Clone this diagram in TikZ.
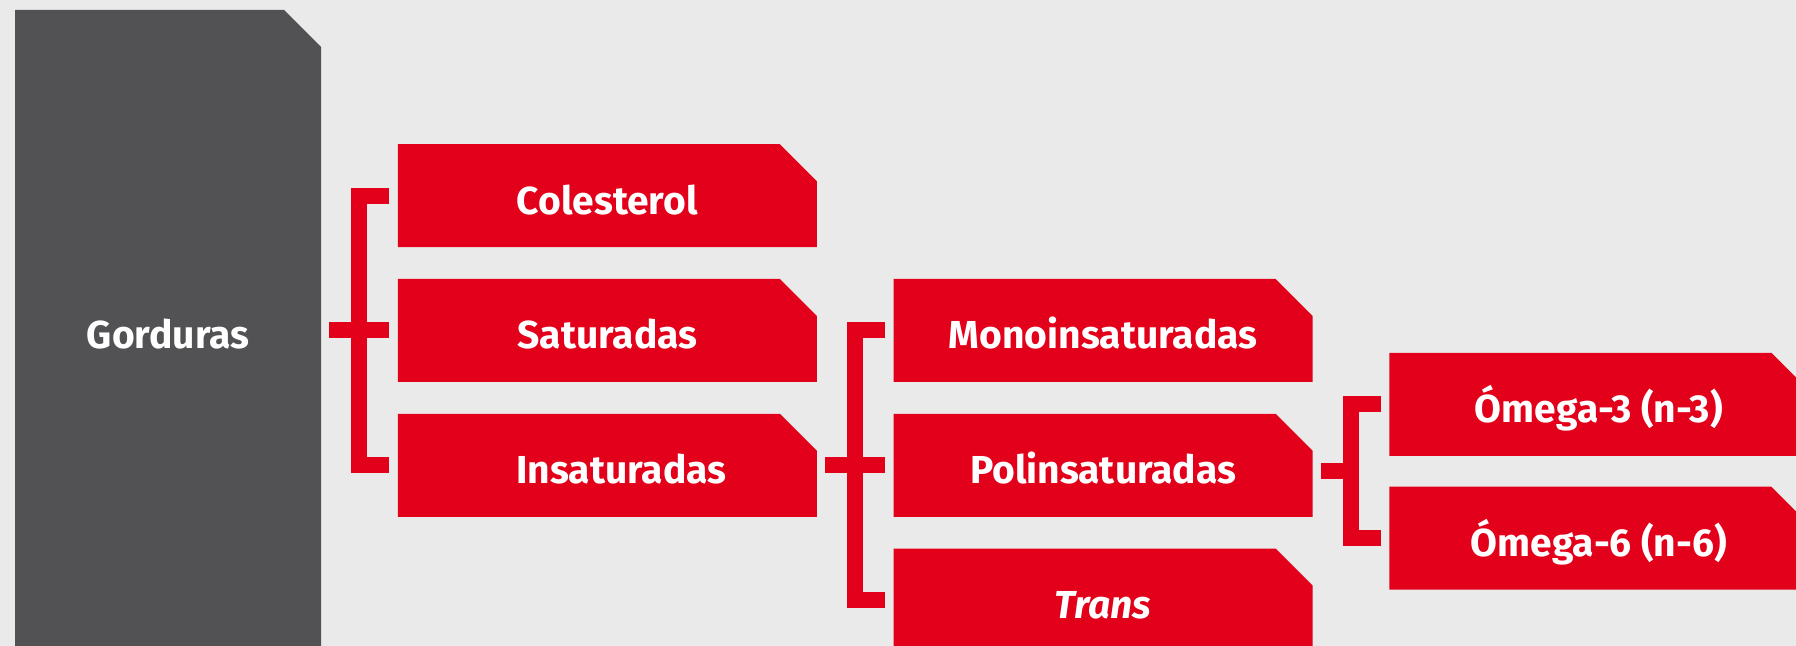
\documentclass[tikz,border=0pt]{standalone}
\usepackage{fontspec}
\setmainfont{Fira Sans}
\usetikzlibrary{positioning,calc}
\definecolor{fatred}{RGB}{226,0,26}
\definecolor{fatgray}{RGB}{82,82,84}
\definecolor{paper}{RGB}{234,234,234}
\begin{document}
\begin{tikzpicture}[x=0.5pt,y=-0.5pt,
  cut box/.style={rectangle,inner sep=0pt,text=white,
    text height=18.5pt,text depth=0pt,
    font=\fontsize{19.5}{23}\selectfont\bfseries,
    path picture={\fill[#1] (path picture bounding box.south west)
      -- (path picture bounding box.north west)
      -- ([xshift=-18.5pt]path picture bounding box.north east)
      -- ([yshift=-18.5pt]path picture bounding box.north east)
      -- (path picture bounding box.south east) -- cycle;}},
  red box/.style={cut box=fatred,minimum width=209.5pt,minimum height=51.5pt},
  main box/.style={cut box=fatgray,minimum width=153pt,minimum height=320.5pt},
  link/.style={draw=fatred,line width=8pt}]

  \useasboundingbox (0,0) rectangle (1796,646);
  \clip (0,0) rectangle (1796,646);
  \fill[paper] (0,0) rectangle (1796,646);

  \node[main box] (gord) at (168,330.5) {Gorduras};
  \node[red box] (sat) [right=38pt of gord] {Saturadas};
  \node[red box] (col) [above=15.5pt of sat] {Colesterol};
  \node[red box] (ins) [below=15.5pt of sat] {\hspace*{14pt}Insaturadas};
  \node[red box] (mono) [right=38pt of sat] {Monoinsaturadas};
  \node[red box] (poli) [right=38pt of ins] {Polinsaturadas};
  \node[red box] (trans) [below=15.5pt of poli] {\itshape Trans};
  \coordinate (fork) at ([yshift=-3pt]poli.east);
  \node[red box] (o3) [above right=7.5pt and 38pt of fork] {Ómega-3 (n-3)};
  \node[red box] (o6) [below right=7.5pt and 38pt of fork] {Ómega-6 (n-6)};

  \draw[link] ([xshift=4pt]gord.east) -- ([xshift=-4pt]sat.west);
  \draw[link] ([xshift=-4pt]col.west) -| ($(gord.east |- ins)+(19pt,0)$)
    -- ([xshift=-4pt]ins.west);
  \draw[link] ([xshift=4pt]ins.east) -- ([xshift=-4pt]poli.west);
  \draw[link] ([xshift=-4pt]mono.west) -| ($(ins.east |- trans)+(19pt,0)$)
    -- ([xshift=-4pt]trans.west);
  \draw[link] ([xshift=4pt]fork) -- ($(fork)+(19pt,0)$);
  \draw[link] ([xshift=-4pt]o3.west) -| ($(fork |- o6)+(19pt,0)$)
    -- ([xshift=-4pt]o6.west);
\end{tikzpicture}
\end{document}
